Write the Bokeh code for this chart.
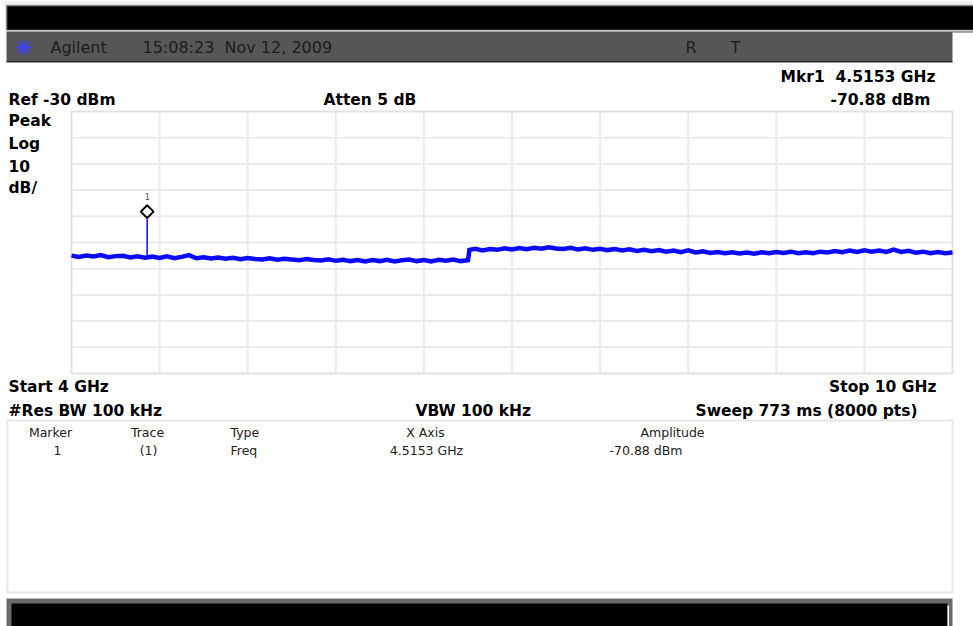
from bokeh.plotting import figure
from bokeh.models import Range1d
from bokeh.core.properties import value
from bokeh.embed import file_html
from bokeh.resources import INLINE

x_start, x_stop = 4.0, 10.0           # GHz
ref_level, bottom_level = -30, -130   # dBm (10 dB/div, 10 div)
x_grid_ticks = [4.6, 5.2, 5.8, 6.4, 7.0, 7.6, 8.2, 8.8, 9.4]
y_grid_ticks = [-40, -50, -60, -70, -80, -90, -100, -110, -120]

# trace, lower segment (4 GHz .. 6.7 GHz)
freq_a = [4.00, 4.05, 4.10, 4.15, 4.20, 4.25, 4.30, 4.35, 4.40, 4.45,
          4.50, 4.55, 4.60, 4.65, 4.70, 4.75, 4.80, 4.85, 4.90, 4.95,
          5.00, 5.05, 5.10, 5.15, 5.20, 5.25, 5.30, 5.35, 5.40, 5.45,
          5.50, 5.55, 5.60, 5.65, 5.70, 5.75, 5.80, 5.85, 5.90, 5.95,
          6.00, 6.05, 6.10, 6.15, 6.20, 6.25, 6.30, 6.35, 6.40, 6.45,
          6.50, 6.55, 6.60, 6.65, 6.70]
amp_a = [-85.0, -85.5, -85.0, -85.3, -84.8, -85.6, -85.2, -85.1, -85.7, -85.3,
         -85.8, -85.4, -85.9, -85.3, -86.0, -85.5, -84.8, -86.0, -85.6, -86.1,
         -85.7, -86.2, -85.8, -86.4, -85.9, -86.3, -86.5, -86.0, -86.6, -86.2,
         -86.5, -86.8, -86.3, -86.7, -86.9, -86.4, -87.0, -86.6, -87.1, -86.7,
         -87.2, -86.7, -87.1, -86.6, -87.2, -86.8, -86.5, -87.1, -86.7, -87.2,
         -86.6, -87.0, -86.5, -87.1, -86.8]

# trace, upper segment (6.71 GHz .. 10 GHz)
freq_b = [6.71, 6.75, 6.80, 6.85, 6.90, 6.95,
          7.00, 7.05, 7.10, 7.15, 7.20, 7.25, 7.30, 7.35, 7.40, 7.45,
          7.50, 7.55, 7.60, 7.65, 7.70, 7.75, 7.80, 7.85, 7.90, 7.95,
          8.00, 8.05, 8.10, 8.15, 8.20, 8.25, 8.30, 8.35, 8.40, 8.45,
          8.50, 8.55, 8.60, 8.65, 8.70, 8.75, 8.80, 8.85, 8.90, 8.95,
          9.00, 9.05, 9.10, 9.15, 9.20, 9.25, 9.30, 9.35, 9.40, 9.45,
          9.50, 9.55, 9.60, 9.65, 9.70, 9.75, 9.80, 9.85, 9.90, 9.95,
          10.00]
amp_b = [-82.8, -82.4, -83.0, -82.5, -82.8, -82.2,
         -82.7, -82.1, -82.6, -82.0, -82.4, -81.8, -82.3, -82.5, -82.0, -82.7,
         -82.2, -82.8, -82.4, -82.9, -82.5, -83.0, -82.6, -83.2, -82.8, -83.3,
         -82.9, -83.5, -83.1, -83.7, -83.0, -83.8, -83.4, -84.0, -83.6, -84.1,
         -83.7, -84.2, -83.8, -84.3, -83.7, -84.1, -83.6, -84.0, -83.5, -84.1,
         -83.7, -84.1, -83.5, -83.8, -83.3, -83.7, -83.1, -83.6, -83.0, -83.5,
         -83.1, -83.6, -82.7, -83.6, -83.2, -83.9, -83.5, -84.1, -83.6, -84.1,
         -83.8]

marker_freq = 4.5153        # GHz
marker_amp = -70.88         # dBm (peak of the spike)
marker_base = -85.5         # trace level under the spike
marker_symbol_level = -68.2 # where the diamond is drawn

NB = "\u00a0"
header_left = "Agilent"
header_time = "15:08:23" + NB + " Nov 12, 2009"
header_flags = ["R", "T"]
mkr_text = "Mkr1" + NB + " 4.5153 GHz"
ref_text = "Ref -30 dBm"
atten_text = "Atten 5 dB"
mkr_amp_text = "-70.88 dBm"
scale_texts = ["Peak", "Log", "10", "dB/"]
start_text = "Start 4 GHz"
stop_text = "Stop 10 GHz"
rbw_text = "#Res BW 100 kHz"
vbw_text = "VBW 100 kHz"
sweep_text = "Sweep 773 ms (8000 pts)"
table_headers = ["Marker", "Trace", "Type", "X Axis", "Amplitude"]
table_row = ["1", "(1)", "Freq", "4.5153 GHz", "-70.88 dBm"]

# ---------------- layout (canvas pixels) ----------------
W, H = 973, 626
PL, PR, PT, PB = 71, 952, 111, 373     # graticule box

gpx = (PR - PL) / (x_stop - x_start)          # px per GHz
dpx = (PB - PT) / (ref_level - bottom_level)  # px per dB

p = figure(width=W, height=H, output_backend="svg", toolbar_location=None,
           title=None, x_range=Range1d(0, W), y_range=Range1d(H, 0),
           x_axis_location=None, y_axis_location=None,
           min_border=0, min_border_left=0, min_border_right=0,
           min_border_top=0, min_border_bottom=0,
           background_fill_color="white", border_fill_color="white")
p.grid.visible = False
p.outline_line_color = None
p.extra_x_ranges = {"freq": Range1d(x_start - PL / gpx, x_stop + (W - PR) / gpx)}
p.extra_y_ranges = {"dbm": Range1d(bottom_level - (H - PB) / dpx, ref_level + PT / dpx)}
FR = dict(x_range_name="freq", y_range_name="dbm")

# ---------------- decoration boxes ----------------
def box(l, r, t, b, color, line=None, lw=0):
    p.quad(left=[l], right=[r], top=[t], bottom=[b], fill_color=color,
           line_color=line, line_width=lw, line_alpha=1 if line else 0)

box(0, W, 0, 5, "#f0f0f0")
box(6, W + 2, 5, 30, "#000000", "#8a8a8a", 1.5)
box(0, W, 30, 31, "#ffffff")
box(6, 952, 31, 61, "#565656")
box(6, 952, 60.5, 62, "#2a2a2a")
box(952, W, 31, 32, "#555555")
box(7, 952, 420, 592, "#ffffff", "#e6e6e6", 2)
box(6, 952, 598, H + 2, "#6a6a6a")
box(11, 947, 603, H + 2, "#000000")
box(947, 948.5, 605, H + 2, "#ffffff")

# Agilent spark logo
p.scatter(x=[23], y=[47], marker="asterisk", size=16, line_color="#4040ff", line_width=1.8)

# ---------------- graticule ----------------
p.segment(x0=x_grid_ticks, x1=x_grid_ticks, y0=[bottom_level] * len(x_grid_ticks),
          y1=[ref_level] * len(x_grid_ticks), line_color="#ebebeb", line_width=2, **FR)
p.segment(x0=[x_start] * len(y_grid_ticks), x1=[x_stop] * len(y_grid_ticks),
          y0=y_grid_ticks, y1=y_grid_ticks, line_color="#ebebeb", line_width=2, **FR)
p.quad(left=[x_start], right=[x_stop], top=[ref_level], bottom=[bottom_level],
       fill_alpha=0, line_color="#e2e2e2", line_width=2, **FR)

# ---------------- trace & marker ----------------
trace_color = "#0a0aff"
p.line(freq_a + freq_b, amp_a + amp_b, line_color=trace_color, line_width=4.5,
       line_join="miter", **FR)
p.segment(x0=[marker_freq], y0=[marker_base], x1=[marker_freq], y1=[marker_amp],
          line_color=trace_color, line_width=1.5, **FR)
p.scatter(x=[marker_freq], y=[marker_symbol_level], marker="square", angle=0.785398,
          size=9, fill_color="white", line_color="black", line_width=2, **FR)
p.text(x=[marker_freq], y=[marker_symbol_level], text=["1"], y_offset=-15,
       text_align="center", text_baseline="middle", text_font=value("DejaVu Sans Mono"),
       text_font_size="9px", text_color="#555555", **FR)

# ---------------- texts ----------------
def lab(x, y, t, align="left", size="15.5px", bold=True, color="#000000", font="DejaVu Sans"):
    p.text(x=[x], y=[y], text=[t], text_align=align, text_baseline="middle",
           text_font=value(font), text_font_size=size,
           text_font_style="bold" if bold else "normal", text_color=color)

hdr_col = "#1c1c1c"
lab(50, 47, header_left, size="16px", bold=False, color=hdr_col)
lab(142, 47, header_time, size="16px", bold=False, color=hdr_col)
lab(685, 47, header_flags[0], size="16px", bold=False, color=hdr_col)
lab(730, 47, header_flags[1], size="16px", bold=False, color=hdr_col)

lab(935, 76, mkr_text, align="right")
lab(8, 99, ref_text)
lab(323, 99, atten_text)
lab(930, 99, mkr_amp_text, align="right")
for i, t in enumerate(scale_texts):
    lab(8, [120, 143, 165, 187][i], t)
lab(8, 386, start_text)
lab(936, 386, stop_text, align="right")
lab(8, 410, rbw_text)
lab(415, 410, vbw_text)
lab(917, 410, sweep_text, align="right")

col_x = [50, 147, 230, 425, 672]
col_align = ["center", "center", "left", "center", "center"]
row_x = [57, 148, 230, 426, 609]
row_align = ["center", "center", "left", "center", "left"]
for i in range(5):
    lab(col_x[i], 432, table_headers[i], align=col_align[i], size="12.5px", bold=False, color="#222222")
    lab(row_x[i], 450, table_row[i], align=row_align[i], size="12.5px", bold=False, color="#222222")

open("out.html", "w").write(file_html(p, INLINE))
